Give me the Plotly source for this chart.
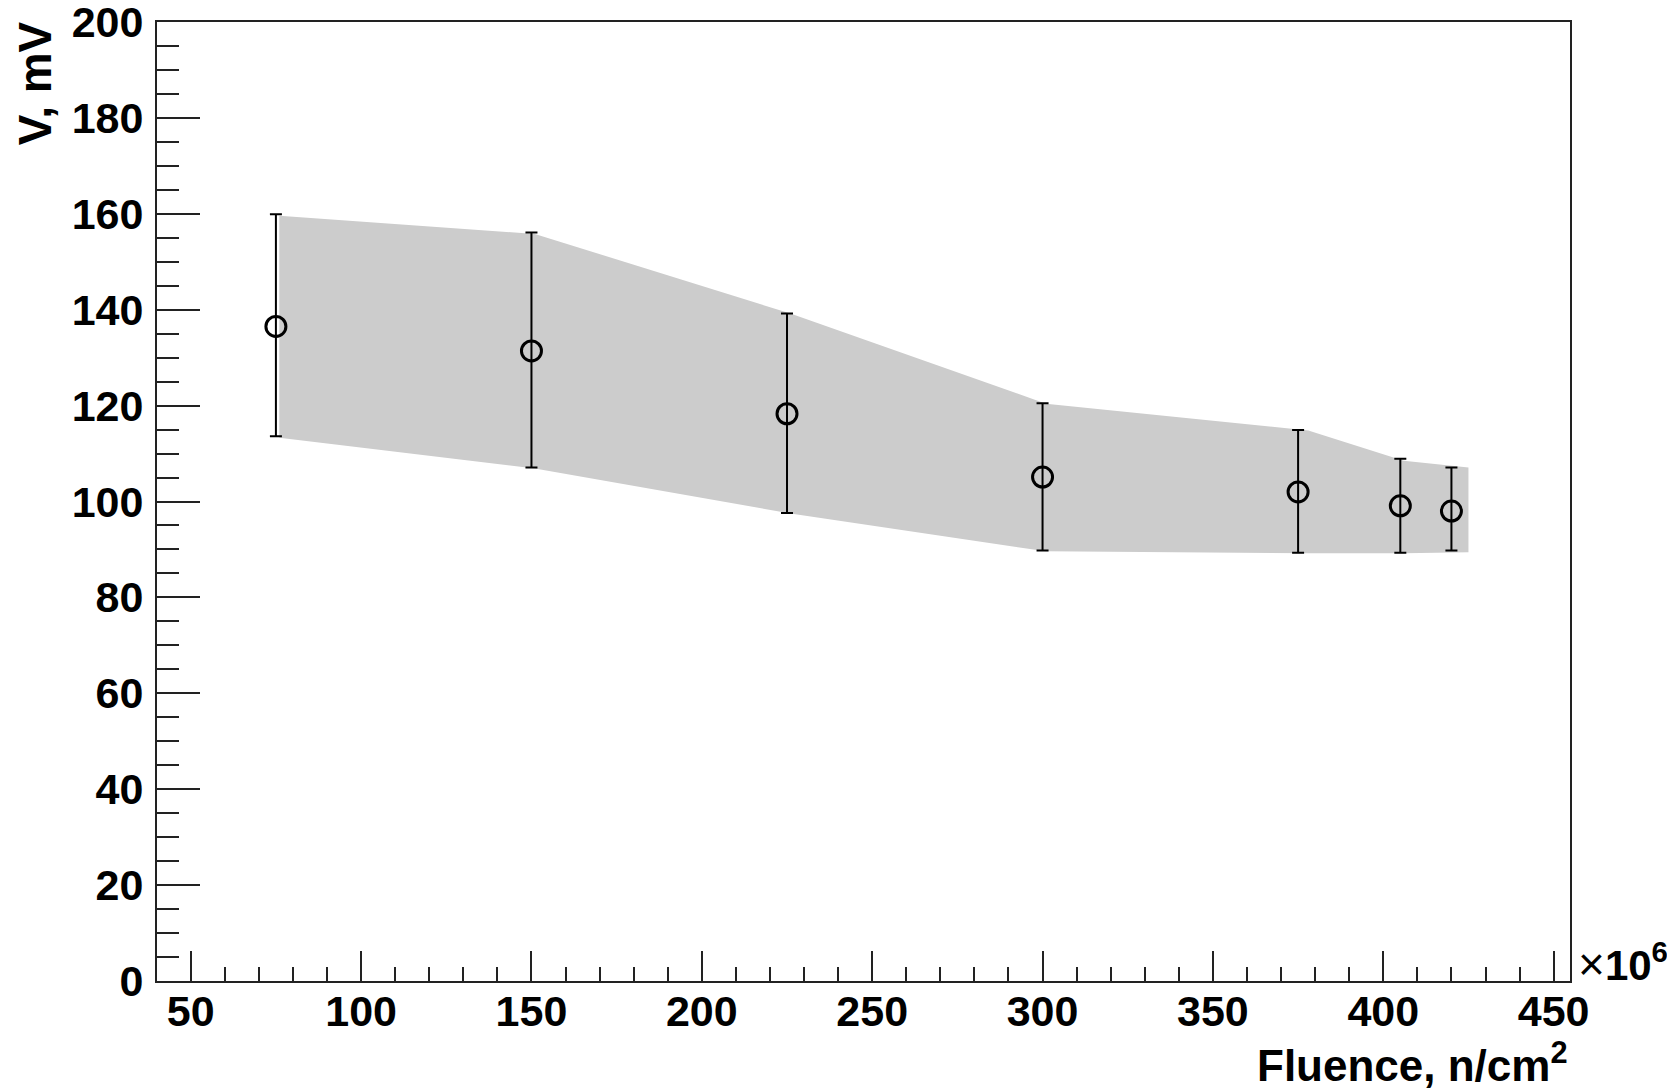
import plotly.graph_objects as go

# ---- data ----
fluence = [75, 150, 225, 300, 375, 405, 420]          # x 10^6 n/cm^2
voltage = [136.5, 131.4, 118.3, 105.1, 102.0, 99.1, 98.0]  # mV
err_top = [159.9, 156.1, 139.2, 120.5, 114.9, 108.9, 107.1]
err_bot = [113.6, 107.1, 97.6, 89.8, 89.3, 89.3, 89.8]

band_x = [76, 151, 226, 301, 378, 406, 425]
band_hi = [159.6, 155.8, 139.2, 120.4, 114.8, 108.5, 107.1]
band_lo = [113.3, 106.9, 97.5, 89.6, 89.2, 89.2, 89.4]

x_ticks = [50, 100, 150, 200, 250, 300, 350, 400, 450]
y_ticks = [0, 20, 40, 60, 80, 100, 120, 140, 160, 180, 200]

FONT = "Liberation Sans"

err_plus = [t - v for t, v in zip(err_top, voltage)]
err_minus = [v - b for v, b in zip(voltage, err_bot)]

fig = go.Figure()

fig.add_trace(go.Scatter(
    x=band_x + band_x[::-1],
    y=band_hi + band_lo[::-1],
    fill="toself", fillcolor="#cccccc",
    line=dict(width=0, color="#cccccc"),
    mode="lines", hoverinfo="skip", showlegend=False,
))

fig.add_trace(go.Scatter(
    x=fluence, y=voltage, mode="markers",
    marker=dict(symbol="circle-open", size=20, color="black",
                line=dict(width=3, color="black")),
    error_y=dict(type="data", symmetric=False, array=err_plus,
                 arrayminus=err_minus, color="black", thickness=2, width=6),
    showlegend=False,
))

axis_common = dict(
    showgrid=False, zeroline=False, showline=True, linecolor="#222222",
    linewidth=2, mirror=True, ticks="inside", tickcolor="#222222",
    tickwidth=2, ticklabeloverflow="allow", automargin=False,
    tickfont=dict(family=FONT, size=43, color="black", weight="bold"),
)

fig.update_xaxes(
    range=[40.1, 454.8], tickvals=x_ticks, ticklen=30,
    minor=dict(dtick=10, tick0=0, ticks="inside", ticklen=14,
               tickcolor="#222222", tickwidth=2),
    ticklabelstandoff=-9,
    **axis_common,
)
fig.update_yaxes(
    range=[0, 200], tickvals=y_ticks, ticklen=43,
    minor=dict(dtick=5, tick0=0, ticks="inside", ticklen=22,
               tickcolor="#222222", tickwidth=2),
    ticklabelstandoff=3,
    **axis_common,
)

fig.add_annotation(
    text="V, mV", textangle=-90, showarrow=False,
    xref="paper", yref="paper", x=-0.0862, y=1.003,
    xanchor="center", yanchor="top",
    font=dict(family=FONT, size=46, color="black", weight="bold"),
)
fig.add_annotation(
    text="Fluence, n/cm<sup>2</sup>", showarrow=False,
    xref="paper", yref="paper", x=1.0, y=-0.0846,
    xanchor="right", yanchor="middle",
    font=dict(family=FONT, size=44, color="black", weight="bold"),
)
fig.add_annotation(
    text="<span style='font-weight:normal;font-size:46px'>\u00d7</span>10<sup>6</sup>",
    showarrow=False,
    xref="paper", yref="paper", x=1.004, y=0.019,
    xanchor="left", yanchor="middle",
    font=dict(family=FONT, size=42, color="black", weight="bold"),
)

# page body has an 8px default margin; size the figure to fill the rest
fig.update_layout(
    width=1667, height=1082,
    margin=dict(l=149, r=105, t=14, b=109),
    paper_bgcolor="white", plot_bgcolor="white",
    showlegend=False,
)

fig.write_html("out.html")
